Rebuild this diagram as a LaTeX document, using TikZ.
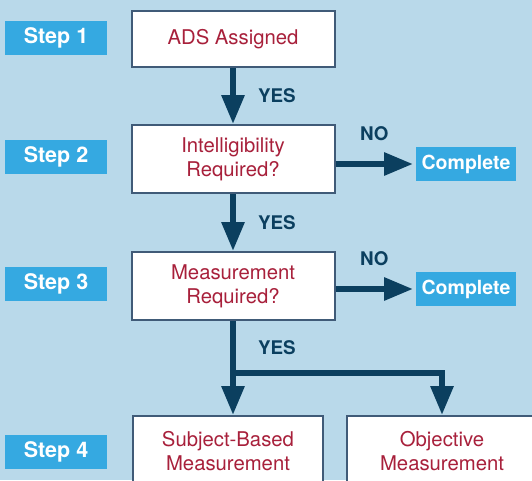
\documentclass[tikz,border=0pt]{standalone}
\usepackage{fontspec}
\setmainfont{TeX Gyre Heros}
\usetikzlibrary{arrows.meta}
\definecolor{fondo}{HTML}{B9D9EA}
\definecolor{azulpaso}{HTML}{35A9E1}
\definecolor{azulflecha}{HTML}{0B3F5F}
\definecolor{borde}{HTML}{405B78}
\definecolor{rojotexto}{HTML}{A8203B}

\begin{document}
\begin{tikzpicture}[x=1pt, y=-1pt, >={Triangle[length=29pt, width=22pt]}, line width=6pt,
  paso/.style={fill=azulpaso, text=white, font=\fontsize{21.5}{25}\selectfont\bfseries,
    minimum width=102pt, minimum height=34pt, inner sep=0pt},
  fin/.style={paso, minimum width=100pt, font=\fontsize{19.5}{23}\selectfont\bfseries},
  caja/.style={draw=borde, line width=2pt, fill=white, text=rojotexto, align=center,
    font=\fontsize{20.3}{24}\selectfont, minimum width=203pt, inner sep=0pt},
  rama/.style={text=azulflecha, font=\fontsize{18.8}{22}\selectfont\bfseries, inner sep=0pt}]
  % fondo
  \useasboundingbox (0,0) rectangle (532,480);
  \fill[fondo] (0,0) rectangle (532,480);
  \clip (0,0) rectangle (532,480);
  % pasos
  \node[paso] (paso1) at (56,38) {Step 1};
  \node[paso] (paso2) at (56,157) {Step 2};
  \node[paso] (paso3) at (56,284) {Step 3};
  \node[paso] (paso4) at (56,452) {Step 4};
  % cajas del flujo
  \node[caja, minimum height=56pt] (ads) at (233,39) {ADS Assigned};
  \node[caja, minimum height=68pt] (intel) at (233,159) {Intelligibility\\Required?};
  \node[caja, minimum height=68pt] (meas) at (233,286) {Measurement\\Required?};
  \node[caja, minimum width=190pt, minimum height=70pt] (subj) at (228,451) {Subject-Based\\Measurement};
  \node[caja, minimum width=190pt, minimum height=70pt] (obj) at (442,451) {Objective\\Measurement};
  \node[fin] (fin1) at (466,164) {Complete};
  \node[fin] (fin2) at (466,289) {Complete};
  % flechas
  \coordinate (nudo) at (233,373);
  \draw[->, azulflecha] (ads) -- node[rama, right=22pt] (si1) {YES} (intel);
  \draw[->, azulflecha] (intel) -- node[rama, right=22pt] (si2) {YES} (meas);
  \draw[->, azulflecha] (intel.east |- fin1) -- node[rama, above=20pt] (no1) {NO} (fin1);
  \draw[->, azulflecha] (meas.east |- fin2) -- node[rama, above=20pt] (no2) {NO} (fin2);
  \draw[->, azulflecha] (meas) -- node[rama, pos=0.28, right=22pt] (si3) {YES} (meas |- subj.north);
  \draw[->, azulflecha] (nudo) -| (obj.north);
\end{tikzpicture}
\end{document}
